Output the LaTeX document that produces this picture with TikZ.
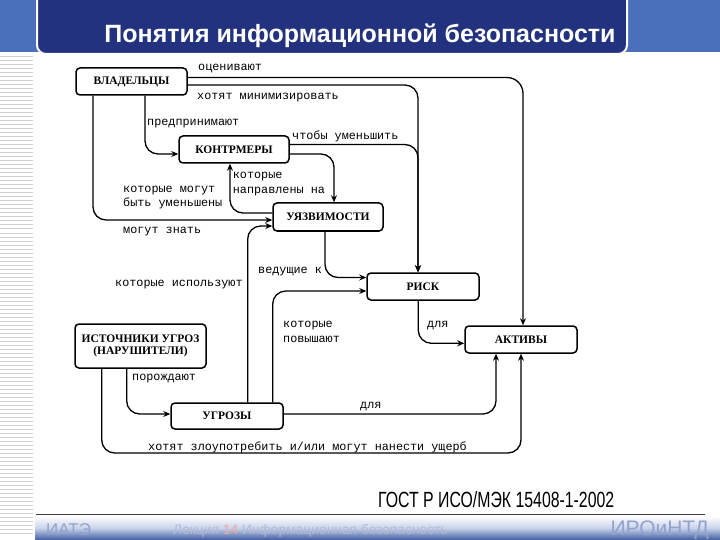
\documentclass[tikz,border=0pt]{standalone}
\usepackage{fontspec}
\setmainfont{Liberation Serif}
\newfontfamily\monof{Liberation Mono}
\newfontfamily\sansf{Liberation Sans}
\usetikzlibrary{arrows.meta}
\definecolor{band}{RGB}{74,112,188}
\definecolor{navy}{RGB}{34,50,126}
\definecolor{stripe}{RGB}{210,210,210}
\definecolor{footblue}{RGB}{62,92,160}
\definecolor{footmid}{RGB}{200,210,234}
\definecolor{foottext}{RGB}{146,162,202}
\definecolor{lecttext}{RGB}{176,186,212}
\definecolor{lectred}{RGB}{232,170,160}
\begin{document}
\begin{tikzpicture}[x=1pt,y=-1pt,
  box/.style={draw=black, line width=1.5pt, rounded corners=4pt, fill=white,
    inner sep=0pt, font=\bfseries\fontsize{11.5}{12.5}\selectfont,
    minimum height=27pt, minimum width=111pt},
  conn/.style={draw=black, line width=1.3pt, rounded corners=13pt,
    -{Stealth[length=7pt,width=6pt]}},
  lbl/.style={font=\monof\fontsize{11.8}{14.3}\selectfont, inner sep=0pt,
    anchor=west, align=left}]
\useasboundingbox (0,0) rectangle (720,540);
\fill[white] (0,0) rectangle (720,540);
% left stripes
\foreach \yy in {57,61,...,533} \draw[stripe, line width=1pt] (0,\yy) -- (33,\yy);
% top band and title
\fill[band] (0,0) rectangle (720,52);
\draw[navy, fill=navy, draw=white, line width=2pt, rounded corners=9pt] (37,-12) rectangle (627,54);
\node[font=\sansf\bfseries\fontsize{25}{28}\selectfont, text=white, inner sep=0pt] (title) at (360,36) {Понятия информационной безопасности};
% footer
\shade[top color=white, bottom color=footblue, middle color=footmid] (35,516) rectangle (720,540);
\draw[black!75, line width=0.8pt] (36,514.5) -- (705,514.5);
\node[font=\sansf\fontsize{22}{24}\selectfont, inner sep=0pt, anchor=west] (gost) at (378,499.5) {\scalebox{0.72}[1]{ГОСТ Р ИСО/МЭК 15408-1-2002}};
\node[font=\sansf\fontsize{17}{20}\selectfont, text=foottext, inner sep=0pt, anchor=west] (iate) at (46,530) {ИАТЭ};
\node[font=\sansf\fontsize{13.8}{15}\selectfont, text=lecttext, inner sep=0pt, anchor=west] (lect) at (173,531) {Лекция \textcolor{lectred}{14} Информационная безопасность};
\node[font=\sansf\fontsize{21}{23}\selectfont, text=foottext, inner sep=0pt, anchor=east] (iro) at (709,530) {ИРОиНТД};
% boxes
\node[box] (own) at (131.5,81.5) {ВЛАДЕЛЬЦЫ};
\node[box, minimum width=110pt] (cm) at (234,149.5) {КОНТРМЕРЫ};
\node[box, minimum width=110pt, minimum height=28pt] (vul) at (328,217) {УЯЗВИМОСТИ};
\node[box, minimum width=112pt] (risk) at (423,286.5) {РИСК};
\node[box, minimum width=112pt] (assets) at (521,339.5) {АКТИВЫ};
\node[box, minimum width=131pt, minimum height=44pt, align=center] (src) at (140.5,346) {ИСТОЧНИКИ УГРОЗ\\(НАРУШИТЕЛИ)};
\node[box, minimum width=112pt, minimum height=26pt] (thr) at (227,416) {УГРОЗЫ};
\coordinate (rail) at (300,453);
% connectors
\draw[conn, rounded corners=16pt] ([yshift=4pt]own.east) -| ([xshift=2pt]assets.north);
\draw[conn] ([yshift=-3.5pt]own.east) -| ([xshift=-5pt]risk.north);
\draw[conn] ([xshift=13.5pt]own.south) |- ([yshift=-4.5pt]cm.west);
\draw[conn] ([yshift=5pt]cm.east) -| ([xshift=-5pt]risk.north);
\draw[conn] ([yshift=-4.5pt]cm.east) -| ([xshift=6pt]vul.north);
\draw[conn] ([yshift=4pt]vul.west) -| ([xshift=-4pt]cm.south);
\draw[conn] ([xshift=-38.5pt]own.south) |- ([yshift=-3pt]vul.west);
\draw[conn] ([xshift=20.7pt]thr.north) |- ([yshift=-9pt]vul.west);
\draw[conn] ([xshift=-3pt]vul.south) |- ([yshift=9pt]risk.west);
\draw[conn] ([xshift=45.7pt]thr.north) |- ([yshift=-4.5pt]risk.west);
\draw[conn] ([xshift=-4.7pt]risk.south) |- ([yshift=-3.8pt]assets.west);
\draw[conn] ([yshift=2pt]thr.east) -| ([xshift=-25pt]assets.south);
\draw[conn] ([xshift=-13.8pt]src.south) |- ([yshift=2pt]thr.west);
\draw[conn] ([xshift=-38.8pt]src.south) |- (rail) -| (assets.south);
% labels
\node[lbl] (l1) at (198,69) {оценивают};
\node[lbl] (l2) at (197,97.7) {хотят минимизировать};
\node[lbl] (l3) at (147,124) {предпринимают};
\node[lbl] (l4) at (292,136.5) {чтобы уменьшить};
\node[lbl] (l5) at (232.7,184) {которые\\направлены на};
\node[lbl] (l6) at (123,197.5) {которые могут\\быть уменьшены};
\node[lbl] (l7) at (123,231.7) {могут знать};
\node[lbl] (l8) at (258,272) {ведущие к};
\node[lbl] (l9) at (115,285) {которые используют};
\node[lbl] (l10) at (283,332) {которые\\повышают};
\node[lbl] (l11) at (427,325.7) {для};
\node[lbl] (l12) at (360,406.7) {для};
\node[lbl] (l13) at (132,379) {порождают};
\node[lbl] (l14) at (148,447) {хотят злоупотребить и/или могут нанести ущерб};
\end{tikzpicture}
\end{document}
